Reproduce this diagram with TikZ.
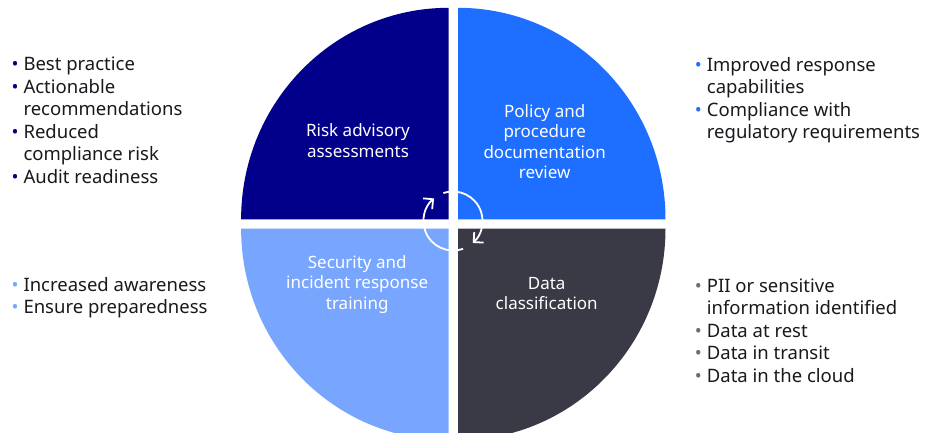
\documentclass[tikz,border=0pt]{standalone}
\usepackage{fontspec}
\setmainfont{Noto Sans}
\usetikzlibrary{arrows.meta}
\definecolor{qnavy}{RGB}{2,0,138}
\definecolor{qblue}{RGB}{30,110,255}
\definecolor{qlight}{RGB}{120,166,255}
\definecolor{qgrey}{RGB}{58,57,70}
\definecolor{txt}{RGB}{25,25,30}
\tikzset{
  qlabel/.style={text=white, align=center, inner sep=0pt, font=\fontsize{17}{20.2}\selectfont},
  litem/.style={anchor=base west, inner sep=0pt, text=txt, font=\fontsize{18.5}{22}\selectfont},
  cyclearrow/.style={draw=white, line width=1.8pt, -{Straight Barb[length=7pt,width=14pt]}},
}
\newcommand{\bul}[1]{\llap{\textcolor{#1}{\textbullet}\hspace{5pt}}}
\begin{document}
\begin{tikzpicture}[x=1pt,y=-1pt]
\useasboundingbox (0,0) rectangle (935,432);
\clip (0,0) rectangle (935,432);
\fill[white] (0,0) rectangle (935,432);
% quadrants
\fill[qnavy] (448.6,219.3) -- ++(-207.5,0) arc[start angle=180,end angle=270,x radius=207.5,y radius=211.5] -- cycle;
\fill[qblue] (458,219.3) -- ++(207.5,0) arc[start angle=0,end angle=-90,x radius=207.5,y radius=211.5] -- cycle;
\fill[qlight] (448.6,228.7) -- ++(-207.5,0) arc[start angle=180,end angle=90,x radius=207.5,y radius=211.5] -- cycle;
\fill[qgrey] (458,228.7) -- ++(207.5,0) arc[start angle=0,end angle=90,x radius=207.5,y radius=211.5] -- cycle;
% quadrant labels
\node[qlabel] (q1) at (358,140.7) {Risk advisory\\assessments};
\node[qlabel] (q2) at (544.7,141.7) {Policy and\\procedure\\documentation\\review};
\node[qlabel] (q3) at (357.2,284.5) {Security and\\incident response\\training};
\node[qlabel] (q4) at (546.7,293.3) {Data\\classification};
% cycle icon
\coordinate (cc) at (453,221);
\draw[cyclearrow] (cc) ++(-109:29.5) arc[start angle=-109,end angle=48,radius=29.5];
\draw[cyclearrow] (cc) ++(70:29.5) arc[start angle=70,end angle=230,radius=29.5];
% left top list
\node[litem] (a1) at (23.3,70.5) {\bul{qnavy}Best practice};
\node[litem] (a2) at (23.3,93) {\bul{qnavy}Actionable};
\node[litem] (a3) at (23.3,115.5) {recommendations};
\node[litem] (a4) at (23.3,138) {\bul{qnavy}Reduced};
\node[litem] (a5) at (23.3,160.5) {compliance risk};
\node[litem] (a6) at (23.3,183) {\bul{qnavy}Audit readiness};
% right top list
\node[litem] (b1) at (706.7,71) {\bul{qblue}Improved response};
\node[litem] (b2) at (706.7,93.5) {capabilities};
\node[litem] (b3) at (706.7,116) {\bul{qblue}Compliance with};
\node[litem] (b4) at (706.7,138.5) {regulatory requirements};
% left bottom list
\node[litem] (c1) at (23.3,291) {\bul{qlight}Increased awareness};
\node[litem] (c2) at (23.3,313.5) {\bul{qlight}Ensure preparedness};
% right bottom list
\node[litem] (d1) at (706.7,292) {\bul{qgrey!75}PII or sensitive};
\node[litem] (d2) at (706.7,314.5) {information identified};
\node[litem] (d3) at (706.7,337) {\bul{qgrey!75}Data at rest};
\node[litem] (d4) at (706.7,359.5) {\bul{qgrey!75}Data in transit};
\node[litem] (d5) at (706.7,382) {\bul{qgrey!75}Data in the cloud};
\end{tikzpicture}
\end{document}
